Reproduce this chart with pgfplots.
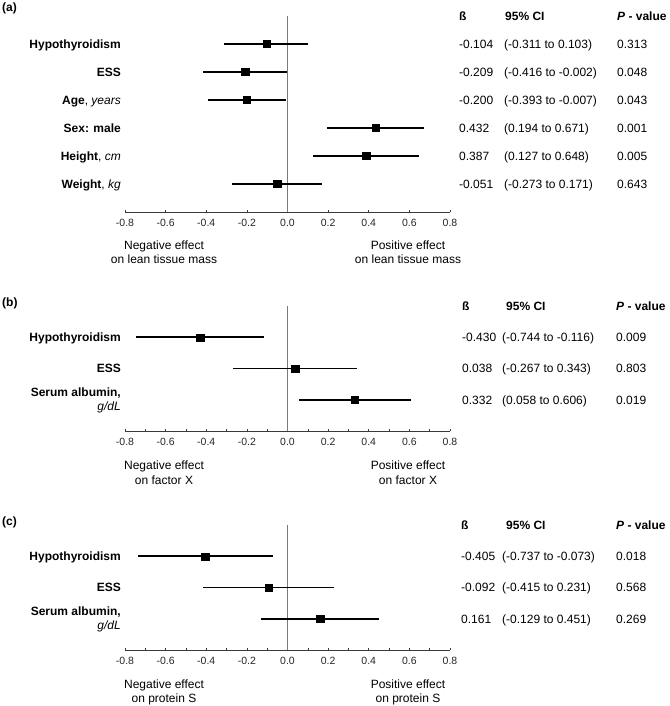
\documentclass[border=0pt]{standalone}
\usepackage{fontspec}
\setmainfont{Liberation Sans}
\usepackage{pgfplots}
\pgfplotsset{compat=1.18}

\definecolor{zerogray}{HTML}{7A7A7A}
\definecolor{axgray}{HTML}{3A3A3A}

\pgfplotsset{
  forest/.style={
    scale only axis, width=325pt,
    xmin=-0.8, xmax=0.8,
    axis x line=bottom, axis y line=none,
    x axis line style={-, draw=axgray, line width=0.8pt},
    xtick={-0.8,-0.6,-0.4,-0.2,0,0.2,0.4,0.6,0.8},
    xticklabels={-0.8,-0.6,-0.4,-0.2,0.0,0.2,0.4,0.6,0.8},
    tick align=inside, major tick length=2.5pt, minor tick length=2pt,
    tick style={axgray, line width=0.6pt},
    xticklabel style={font=\fontsize{10.5}{12}\selectfont, yshift=-3pt, text=black!85},
    clip=false,
  },
  minorticks/.style={minor xtick={-0.7,-0.5,-0.3,-0.1,0.1,0.3,0.5,0.7}},
  ci/.style={only marks, black, mark=square*, mark size=3.6pt,
    mark options={solid, line width=0.3pt, fill=black},
    error bars/.cd, x dir=both, x explicit, error mark=none,
    error bar style={line width=1.8pt, black}},
}

\newcommand\labR[3]{\node[anchor=base east, inner sep=0pt] at (#1pt,-#2pt) {#3};}
\newcommand\labL[3]{\node[anchor=base west, inner sep=0pt] at (#1pt,-#2pt) {#3};}
\newcommand\labC[3]{\node[anchor=base, inner sep=0pt] at (#1pt,-#2pt) {#3};}

\begin{document}
\fontsize{12}{14}\selectfont
\begin{tikzpicture}[x=1pt,y=1pt]
\useasboundingbox (0,0) rectangle (669pt,-706pt);

% ---------------- Panel (a) ----------------
\begin{axis}[forest, at={(125pt,-16pt)}, anchor=north west, height=196pt, ymin=0, ymax=7]
  \draw[zerogray, line width=1.1pt] (axis cs:0,0) -- (axis cs:0,7);
  \addplot[ci] coordinates {
    (-0.104,6) += (0.207,0) -= (0.207,0)
    (-0.209,5) += (0.207,0) -= (0.207,0)
    (-0.200,4) += (0.193,0) -= (0.193,0)
    (0.432,3)  += (0.239,0) -= (0.238,0)
    (0.387,2)  += (0.261,0) -= (0.260,0)
    (-0.051,1) += (0.222,0) -= (0.222,0)
  };
\end{axis}
\labL{2}{11.5}{\textbf{(a)}}
\labR{121}{48.2}{\textbf{Hypothyroidism}}
\labR{121}{76.2}{\textbf{ESS}}
\labR{121}{104.2}{\textbf{Age}, \textit{years}}
\labR{121}{132.2}{\textbf{Sex: male}}
\labR{121}{160.2}{\textbf{Height}, \textit{cm}}
\labR{121}{188.2}{\textbf{Weight}, \textit{kg}}
\labL{459}{20.2}{\textbf{ß}}
\labL{505}{20.2}{\textbf{95\% CI}}
\labL{617}{20.2}{\textbf{\textit{P} - value}}
\labL{459}{48.2}{-0.104}\labL{504}{48.2}{(-0.311 to 0.103)}\labL{617}{48.2}{0.313}
\labL{459}{76.2}{-0.209}\labL{504}{76.2}{(-0.416 to -0.002)}\labL{617}{76.2}{0.048}
\labL{459}{104.2}{-0.200}\labL{504}{104.2}{(-0.393 to -0.007)}\labL{617}{104.2}{0.043}
\labL{459}{132.2}{0.432}\labL{504}{132.2}{(0.194 to 0.671)}\labL{617}{132.2}{0.001}
\labL{459}{160.2}{0.387}\labL{504}{160.2}{(0.127 to 0.648)}\labL{617}{160.2}{0.005}
\labL{459}{188.2}{-0.051}\labL{504}{188.2}{(-0.273 to 0.171)}\labL{617}{188.2}{0.643}
\labC{164}{249.2}{Negative effect}
\labC{164}{263.2}{on lean tissue mass}
\labC{408}{249.2}{Positive effect}
\labC{408}{263.2}{on lean tissue mass}

% ---------------- Panel (b) ----------------
\begin{axis}[forest, minorticks, at={(125pt,-306pt)}, anchor=north west, height=125pt, ymin=0, ymax=4]
  \draw[zerogray, line width=1.1pt] (axis cs:0,0) -- (axis cs:0,4);
  \addplot[ci] coordinates {
    (-0.430,3) += (0.314,0) -= (0.314,0)
    (0.038,2)  += (0.305,0) -= (0.305,0)
    (0.332,1)  += (0.274,0) -= (0.274,0)
  };
\end{axis}
\labL{2}{306}{\textbf{(b)}}
\labR{121}{341.5}{\textbf{Hypothyroidism}}
\labR{121}{372.7}{\textbf{ESS}}
\labR{121}{396.7}{\textbf{Serum albumin,}}
\labR{121}{410.7}{\textit{g/dL}}
\labL{462}{310.2}{\textbf{ß}}
\labL{506}{310.2}{\textbf{95\% CI}}
\labL{616}{310.2}{\textbf{\textit{P} - value}}
\labL{462}{341.5}{-0.430}\labL{502}{341.5}{(-0.744 to -0.116)}\labL{616}{341.5}{0.009}
\labL{462}{372.7}{0.038}\labL{502}{372.7}{(-0.267 to 0.343)}\labL{616}{372.7}{0.803}
\labL{462}{404}{0.332}\labL{502}{404}{(0.058 to 0.606)}\labL{616}{404}{0.019}
\labC{164}{469.2}{Negative effect}
\labC{164}{484.2}{on factor X}
\labC{408}{469.2}{Positive effect}
\labC{408}{484.2}{on factor X}

% ---------------- Panel (c) ----------------
\begin{axis}[forest, minorticks, at={(125pt,-525pt)}, anchor=north west, height=125pt, ymin=0, ymax=4]
  \draw[zerogray, line width=1.1pt] (axis cs:0,0) -- (axis cs:0,4);
  \addplot[ci] coordinates {
    (-0.405,3) += (0.332,0) -= (0.332,0)
    (-0.092,2) += (0.323,0) -= (0.323,0)
    (0.161,1)  += (0.290,0) -= (0.290,0)
  };
\end{axis}
\labL{2}{525}{\textbf{(c)}}
\labR{121}{560.5}{\textbf{Hypothyroidism}}
\labR{121}{591.7}{\textbf{ESS}}
\labR{121}{615.7}{\textbf{Serum albumin,}}
\labR{121}{629.7}{\textit{g/dL}}
\labL{461}{529.2}{\textbf{ß}}
\labL{506}{529.2}{\textbf{95\% CI}}
\labL{616}{529.2}{\textbf{\textit{P} - value}}
\labL{461}{560.5}{-0.405}\labL{502}{560.5}{(-0.737 to -0.073)}\labL{616}{560.5}{0.018}
\labL{461}{591.7}{-0.092}\labL{502}{591.7}{(-0.415 to 0.231)}\labL{616}{591.7}{0.568}
\labL{461}{623}{0.161}\labL{502}{623}{(-0.129 to 0.451)}\labL{616}{623}{0.269}
\labC{164}{688.2}{Negative effect}
\labC{164}{702.2}{on protein S}
\labC{408}{688.2}{Positive effect}
\labC{408}{702.2}{on protein S}
\end{tikzpicture}
\end{document}
